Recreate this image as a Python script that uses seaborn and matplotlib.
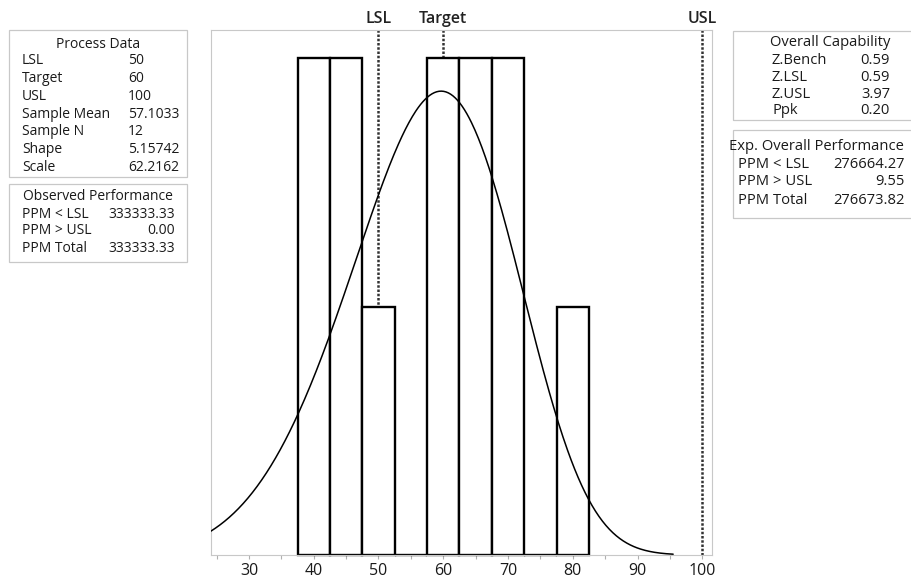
import numpy as np
import pandas as pd
import seaborn as sns
import matplotlib.pyplot as plt
from matplotlib.patches import Rectangle


# Histogram bins (bin edges and counts per bin)
bin_edges = [37.5, 42.5, 47.5, 52.5, 57.5, 62.5, 67.5, 72.5, 77.5, 82.5]
bin_centers = [40, 45, 50, 55, 60, 65, 70, 75, 80]
bin_counts = [2, 2, 1, 0, 2, 2, 2, 0, 1]

# Spec lines
spec_names = ['LSL', 'Target', 'USL']
spec_limits = [50, 60, 100]

# Weibull fit (from the process data table)
shape = 5.15742
scale = 62.2162
sample_n = 12
curve_range = [24.09, 95.5]

# Tables
process_labels = ['LSL', 'Target', 'USL', 'Sample Mean', 'Sample N', 'Shape', 'Scale']
process_values = ['50', '60', '100', '57.1033', '12', '5.15742', '62.2162']
observed_labels = ['PPM < LSL', 'PPM > USL', 'PPM Total']
observed_values = ['333333.33', '0.00', '333333.33']
capability_labels = ['Z.Bench', 'Z.LSL', 'Z.USL', 'Ppk']
capability_values = ['0.59', '0.59', '3.97', '0.20']
expected_labels = ['PPM < LSL', 'PPM > USL', 'PPM Total']
expected_values = ['276664.27', '9.55', '276673.82']

x_ticks = [30, 40, 50, 60, 70, 80, 90, 100]
x_minor = [25, 35, 45, 55, 65, 75, 85, 95]

sns.set_style('white')
plt.rcParams['font.family'] = ['Open Sans', 'DejaVu Sans']

W, H = 911, 578
fig = plt.figure(figsize=(W / 100, H / 100), dpi=100)


def fx(x):
    return x / W


def fy(y):
    return 1 - y / H


ax = fig.add_axes([fx(210.7), fy(555), fx(712) - fx(210.7), fy(30) - fy(555)])

# spec lines (behind the bars)
for name, val in zip(spec_names, spec_limits):
    ax.axvline(val, color='#333333', lw=1.8, ls=(0, (1, 0.7)), zorder=1)
    ax.text(val, 1 + 11 / 525, name, transform=ax.get_xaxis_transform(),
            ha='center', va='center', fontsize=11.5, fontweight='semibold', color='#222222')

hist = pd.DataFrame({'x': bin_centers, 'n': bin_counts})
sns.histplot(data=hist, x='x', weights='n', bins=bin_edges, ax=ax,
             color='white', edgecolor='black', linewidth=1.7, alpha=1, zorder=2,
             clip_on=False)

xc = np.linspace(curve_range[0], curve_range[1], 400)
pdf = (shape / scale) * (xc / scale) ** (shape - 1) * np.exp(-(xc / scale) ** shape)
yc = pdf * sample_n * (bin_edges[1] - bin_edges[0])
sns.lineplot(x=xc, y=yc, ax=ax, color='black', lw=1.1, zorder=3)

ax.set_xlim(24.09, 101.5)
ax.set_ylim(0, 2.113)
ax.set_xticks(x_ticks)
ax.set_xticks(x_minor, minor=True)
ax.set_xticklabels([str(t) for t in x_ticks])
ax.set_yticks([])
ax.set_xlabel('')
ax.set_ylabel('')
ax.tick_params(axis='x', which='both', direction='out', length=3, width=0.8,
               color='#b0b0b0', labelsize=11.5, labelcolor='#1a1a1a', pad=3, bottom=True)
for sp in ax.spines.values():
    sp.set_color('#c8c8c8')
    sp.set_linewidth(0.8)


def box(x0, y0, x1, y1):
    fig.add_artist(Rectangle((fx(x0), fy(y1)), fx(x1) - fx(x0), fy(y0) - fy(y1),
                             transform=fig.transFigure, fill=False,
                             edgecolor='#c8c8c8', lw=0.9))


def txt(x, y, s, ha='left', size=10):
    fig.text(fx(x), fy(y), s, ha=ha, va='center', fontsize=size, color='#1a1a1a')


# Process Data
box(9, 30, 187, 177)
txt(98, 44, 'Process Data', ha='center')
for i, (lab, val) in enumerate(zip(process_labels, process_values)):
    y = 61 + 17.7 * i
    txt(22, y, lab)
    txt(128, y, val)

# Observed Performance
box(9, 184, 187, 262)
txt(98, 197, 'Observed Performance', ha='center')
for i, (lab, val) in enumerate(zip(observed_labels, observed_values)):
    y = 214 + 17 * i
    txt(22, y, lab)
    txt(175, y, val, ha='right')

# Overall Capability
box(733, 31, 940, 120)
txt(830, 43, 'Overall Capability', ha='center', size=10.6)
for i, (lab, val) in enumerate(zip(capability_labels, capability_values)):
    y = 61 + 16.6 * i
    txt(772, y, lab, size=10.6)
    txt(890, y, val, ha='right', size=10.6)

# Exp. Overall Performance
box(733, 130, 940, 218)
txt(816, 147, 'Exp. Overall Performance', ha='center', size=10.6)
for i, (lab, val) in enumerate(zip(expected_labels, expected_values)):
    y = 164 + 18 * i
    txt(738, y, lab, size=10.6)
    txt(905, y, val, ha='right', size=10.6)

fig.savefig('out.png', dpi=100)
